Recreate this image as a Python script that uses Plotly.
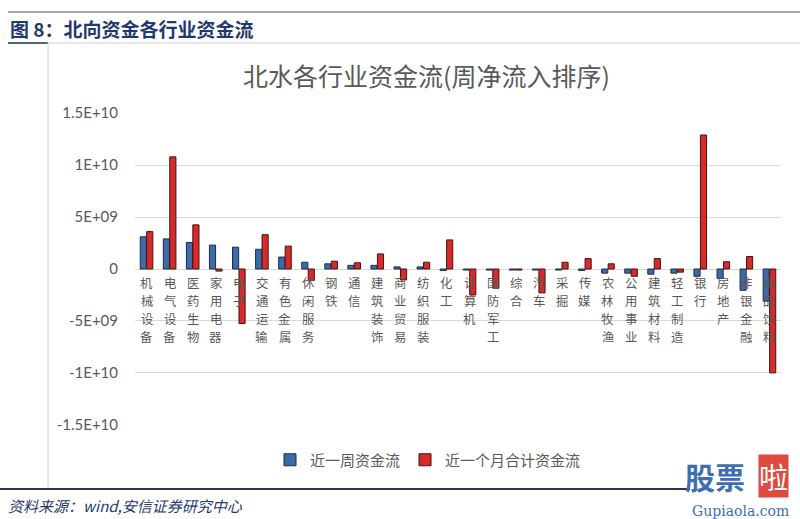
import plotly.graph_objects as go

categories = ["机械设备", "电气设备", "医药生物", "家用电器", "电子", "交通运输", "有色金属",
              "休闲服务", "钢铁", "通信", "建筑装饰", "商业贸易", "纺织服装", "化工",
              "计算机", "国防军工", "综合", "汽车", "采掘", "传媒", "农林牧渔", "公用事业",
              "建筑材料", "轻工制造", "银行", "房地产", "非银金融", "食品饮料"]

week_flow = [3.1e9, 2.9e9, 2.55e9, 2.3e9, 2.1e9, 1.9e9, 1.15e9, 0.65e9, 0.5e9, 0.35e9,
             0.35e9, 0.2e9, 0.2e9, -0.15e9, -0.1e9, -0.1e9, -0.1e9, -0.1e9, -0.1e9,
             -0.15e9, -0.4e9, -0.4e9, -0.5e9, -0.4e9, -0.7e9, -0.9e9, -2.05e9, -3.1e9]

month_flow = [3.6e9, 10.8e9, 4.25e9, -0.2e9, -5.25e9, 3.3e9, 2.2e9, -1.1e9, 0.75e9, 0.6e9,
              1.45e9, -1.05e9, 0.65e9, 2.8e9, -2.5e9, -1.85e9, -0.1e9, -2.3e9, 0.65e9,
              1.0e9, 0.5e9, -0.7e9, 1.0e9, -0.3e9, 12.9e9, 0.7e9, 1.2e9, -10.0e9]

tick_vals = [1.5e10, 1e10, 5e9, 0, -5e9, -1e10, -1.5e10]
tick_text = ["1.5E+10", "1E+10", "5E+09", "0", "-5E+09", "-1E+10", "-1.5E+10"]

series_names = ["近一周资金流", "近一个月合计资金流"]

W, H = 800, 519
ML, MR, MT, MB = 135, 19, 113, 94
PW, PH = W - ML - MR, H - MT - MB


def px(x):
    return (x - ML) / PW


def py(y):
    return (H - MB - y) / PH


GRAY = "#595959"
CJK = "Noto Sans CJK SC"

fig = go.Figure()
fig.add_trace(go.Bar(x=categories, y=week_flow, name=series_names[0],
                     marker=dict(color="#3D6BAA", line=dict(color="#1C2B45", width=1))))
fig.add_trace(go.Bar(x=categories, y=month_flow, name=series_names[1],
                     marker=dict(color="#D52B2B", line=dict(color="#4A1010", width=1))))

annotations = []
CHAR_STEP = 18
for c in categories:
    for i, ch in enumerate(c):
        annotations.append(dict(x=c, y=0, xref="x", yref="y", yanchor="top", xanchor="center",
                                yshift=-4 - i * CHAR_STEP, showarrow=False, text=ch,
                                borderpad=0,
                                font=dict(family=CJK, size=12.4, color=GRAY)))

# chart title
annotations.append(dict(x=px(426), y=py(75), xref="paper", yref="paper", showarrow=False,
                        xanchor="center", yanchor="middle", text="北水各行业资金流(周净流入排序)",
                        font=dict(family=CJK, size=25, color=GRAY)))
# header
annotations.append(dict(x=px(8), y=py(28), xref="paper", yref="paper", showarrow=False,
                        xanchor="left", yanchor="middle", text="<b>图 8：北向资金各行业资金流</b>",
                        font=dict(family=CJK, size=19, color="#1F3A6E")))
# source
annotations.append(dict(x=px(6), y=py(505), xref="paper", yref="paper", showarrow=False,
                        xanchor="left", yanchor="middle", text="<i>资料来源：wind,安信证券研究中心</i>",
                        font=dict(family=CJK, size=15, color="#1F3A6E")))
# watermark
annotations.append(dict(x=px(683), y=py(476), xref="paper", yref="paper", showarrow=False,
                        xanchor="left", yanchor="middle", text="<b>股票</b>",
                        font=dict(family=CJK, size=30, color="#3F6FAE")))
annotations.append(dict(x=px(773), y=py(476), xref="paper", yref="paper", showarrow=False,
                        xanchor="center", yanchor="middle", text="啦",
                        font=dict(family=CJK, size=29, color="white"),
                        bgcolor="#E0493E", borderpad=0))
annotations.append(dict(x=px(740), y=py(511), xref="paper", yref="paper", showarrow=False,
                        xanchor="center", yanchor="middle", text="Gupiaola.com",
                        font=dict(family="DejaVu Serif", size=14, color="#3F6FAE")))

shapes = [
    dict(type="line", xref="paper", yref="paper", x0=px(8), x1=px(800), y0=py(12), y1=py(12),
         line=dict(color="#8A8A8A", width=1.5)),
    dict(type="line", xref="paper", yref="paper", x0=px(8), x1=px(48), y0=py(43), y1=py(43),
         line=dict(color="#1F2F4A", width=1.5)),
    dict(type="line", xref="paper", yref="paper", x0=px(48), x1=px(800), y0=py(43), y1=py(43),
         line=dict(color="#D0D0D0", width=1)),
    dict(type="line", xref="paper", yref="paper", x0=px(48), x1=px(48), y0=py(43), y1=py(489),
         line=dict(color="#D0D0D0", width=1)),
    dict(type="line", xref="paper", yref="paper", x0=px(0), x1=px(690), y0=py(489), y1=py(489),
         line=dict(color="#2A3550", width=2)),
]

fig.update_layout(
    width=W, height=H,
    margin=dict(l=ML, r=MR, t=MT, b=MB),
    paper_bgcolor="white", plot_bgcolor="white",
    barmode="group", bargap=0.44, bargroupgap=0.05,
    showlegend=True,
    legend=dict(orientation="h", x=px(428), xanchor="center", y=py(460), yanchor="middle",
                font=dict(family=CJK, size=15, color=GRAY), itemwidth=30,
                bgcolor="rgba(0,0,0,0)"),
    xaxis=dict(showticklabels=False, showgrid=False, zeroline=False, showline=False,
               ticks=""),
    yaxis=dict(range=[-1.502e10, 1.502e10], tickvals=tick_vals, ticktext=tick_text,
               showgrid=True, gridcolor="#D9D9D9", gridwidth=1.2,
               zeroline=True, zerolinecolor="#D9D9D9", zerolinewidth=1.2,
               showline=False, ticks="", ticklabelstandoff=16,
               tickfont=dict(family="Lato", size=15, color=GRAY)),
    annotations=annotations,
    shapes=shapes,
)

fig.write_html("out.html")
